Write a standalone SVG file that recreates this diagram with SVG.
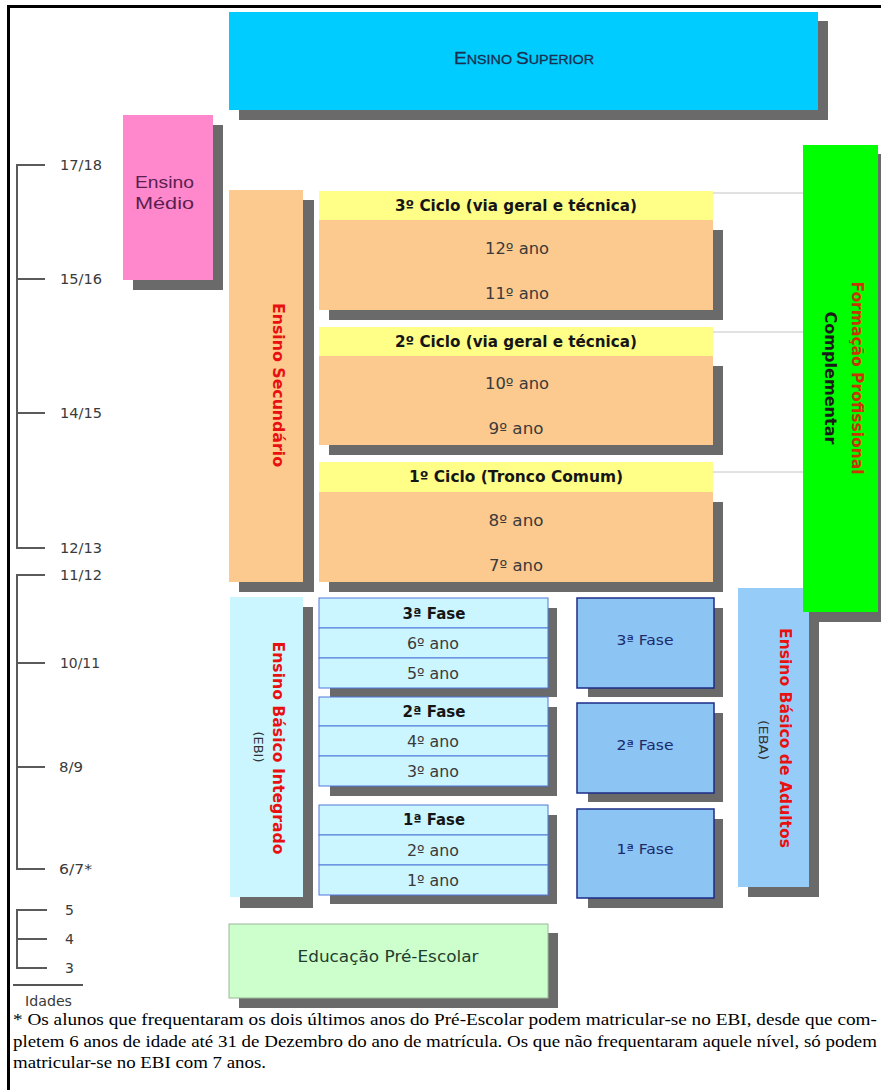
<svg xmlns="http://www.w3.org/2000/svg" width="881" height="1090" viewBox="0 0 881 1090">
<style>
.sh{fill:#6a6a6a}
.v{font-family:"DejaVu Sans","Liberation Sans",sans-serif;text-anchor:middle}
.age{font-family:"DejaVu Sans",sans-serif;font-size:14px;fill:#3a3a3a}
.axis{stroke:#5a5a5a;stroke-width:2;fill:none}
.red{fill:#e81010;font-weight:bold;font-size:15px}
.row{font-size:15px;fill:#3a3a3a}
.hdr{font-size:15px;font-weight:bold;fill:#151515}
.ebi{fill:#ccf6ff;stroke:#4f78d8;stroke-width:1}
.eba{fill:#8cc4f4;stroke:#1c2c86;stroke-width:1.5}
.org{fill:#fcc98f}
.yel{fill:#ffff88}
.conn{stroke:#c4c4c4;stroke-width:1}
.foot{font-family:"Liberation Serif","Times New Roman",serif;font-size:17px;fill:#000}
</style>
<rect x="0" y="0" width="881" height="1090" fill="#ffffff"/>
<path d="M8.5,1090 V6.5 H881" fill="none" stroke="#000" stroke-width="3"/>

<g id="connectors">
  <line class="conn" x1="713" y1="193" x2="803" y2="193"/>
  <line class="conn" x1="713" y1="332" x2="803" y2="332"/>
  <line class="conn" x1="713" y1="472" x2="803" y2="472"/>
</g>

<g id="ensino-superior">
  <rect class="sh" x="239" y="21" width="589" height="99"/>
  <rect x="229" y="12" width="589" height="98" fill="#00ccff"/>
  <text x="524" y="64" font-family="'Liberation Sans',sans-serif" fill="#1a3050" text-anchor="middle" stroke="#1a3050" stroke-width="0.3" textLength="140" lengthAdjust="spacingAndGlyphs"><tspan font-size="16">E</tspan><tspan font-size="12">NSINO </tspan><tspan font-size="16">S</tspan><tspan font-size="12">UPERIOR</tspan></text>
</g>

<g id="ensino-medio">
  <rect class="sh" x="133" y="125" width="90" height="165"/>
  <rect x="123" y="115" width="90" height="165" fill="#ff88cc"/>
  <text x="135" y="188" font-family="'Liberation Sans',sans-serif" font-size="17" fill="#5a1f4f" textLength="59" lengthAdjust="spacingAndGlyphs">Ensino</text>
  <text x="135" y="209" font-family="'Liberation Sans',sans-serif" font-size="17" fill="#5a1f4f" textLength="59" lengthAdjust="spacingAndGlyphs">Médio</text>
</g>

<g id="ensino-secundario">
  <rect class="sh" x="239" y="200" width="75" height="392"/>
  <rect class="org" x="229" y="190" width="74" height="392"/>
  <text class="v red" transform="translate(278 385) rotate(90)" y="5" textLength="164" lengthAdjust="spacingAndGlyphs">Ensino Secundário</text>
</g>

<g id="ciclo3">
  <rect class="sh" x="329" y="230" width="394" height="90"/>
  <rect class="yel" x="319" y="191" width="394" height="29"/>
  <rect class="org" x="319" y="220" width="394" height="90"/>
  <text class="v hdr" x="516" y="211" textLength="242" lengthAdjust="spacingAndGlyphs">3º Ciclo (via geral e técnica)</text>
  <text class="v row" x="517" y="254" textLength="64" lengthAdjust="spacingAndGlyphs">12º ano</text>
  <text class="v row" x="517" y="299" textLength="64" lengthAdjust="spacingAndGlyphs">11º ano</text>
</g>

<g id="ciclo2">
  <rect class="sh" x="329" y="366" width="394" height="89"/>
  <rect class="yel" x="319" y="327" width="394" height="29"/>
  <rect class="org" x="319" y="356" width="394" height="89"/>
  <text class="v hdr" x="516" y="347" textLength="242" lengthAdjust="spacingAndGlyphs">2º Ciclo (via geral e técnica)</text>
  <text class="v row" x="517" y="389" textLength="64" lengthAdjust="spacingAndGlyphs">10º ano</text>
  <text class="v row" x="516" y="434" textLength="55" lengthAdjust="spacingAndGlyphs">9º ano</text>
</g>

<g id="ciclo1">
  <rect class="sh" x="329" y="502" width="394" height="90"/>
  <rect class="yel" x="319" y="462" width="394" height="30"/>
  <rect class="org" x="319" y="492" width="394" height="90"/>
  <text class="v hdr" x="516" y="482" textLength="214" lengthAdjust="spacingAndGlyphs">1º Ciclo (Tronco Comum)</text>
  <text class="v row" x="516" y="526" textLength="55" lengthAdjust="spacingAndGlyphs">8º ano</text>
  <text class="v row" x="516" y="571" textLength="54" lengthAdjust="spacingAndGlyphs">7º ano</text>
</g>

<g id="ensino-basico-adultos">
  <rect class="sh" x="748" y="598" width="71" height="299"/>
  <rect x="738" y="588" width="71" height="299" fill="#96ccf8"/>
  <text class="v red" transform="translate(785 738) rotate(90)" y="5" textLength="220" lengthAdjust="spacingAndGlyphs">Ensino Básico de Adultos</text>
  <text class="v" transform="translate(763 740) rotate(90)" y="4" font-size="12" fill="#333" textLength="40" lengthAdjust="spacingAndGlyphs">(EBA)</text>
</g>

<g id="formacao-profissional">
  <rect class="sh" x="812" y="154" width="75" height="468"/>
  <rect x="803" y="145" width="75" height="467" fill="#00ff00"/>
  <text class="v" transform="translate(857 378) rotate(90)" y="5" font-size="15" font-weight="bold" fill="#cc3300" textLength="193" lengthAdjust="spacingAndGlyphs">Formação Profissional</text>
  <text class="v" transform="translate(830 378) rotate(90)" y="5" font-size="15" font-weight="bold" fill="#1a1a1a" textLength="133" lengthAdjust="spacingAndGlyphs">Complementar</text>
</g>

<g id="ensino-basico-integrado">
  <rect class="sh" x="240" y="607" width="73" height="301"/>
  <rect x="230" y="597" width="73" height="300" fill="#ccf6ff"/>
  <text class="v red" transform="translate(278 748) rotate(90)" y="5" textLength="213" lengthAdjust="spacingAndGlyphs">Ensino Básico Integrado</text>
  <text class="v" transform="translate(258 747) rotate(90)" y="4" font-size="12" fill="#333" textLength="31" lengthAdjust="spacingAndGlyphs">(EBI)</text>
</g>

<g id="ebi-fase3">
  <rect class="sh" x="330" y="608" width="227" height="89"/>
  <rect class="ebi" x="319" y="598" width="229" height="30"/>
  <rect class="ebi" x="319" y="628" width="229" height="30"/>
  <rect class="ebi" x="319" y="658" width="229" height="30"/>
  <text class="v hdr" x="434" y="619" textLength="63" lengthAdjust="spacingAndGlyphs">3ª Fase</text>
  <text class="v row" x="433" y="649" textLength="52" lengthAdjust="spacingAndGlyphs">6º ano</text>
  <text class="v row" x="433" y="679" textLength="52" lengthAdjust="spacingAndGlyphs">5º ano</text>
</g>

<g id="ebi-fase2">
  <rect class="sh" x="330" y="707" width="227" height="89"/>
  <rect class="ebi" x="319" y="697" width="229" height="29"/>
  <rect class="ebi" x="319" y="726" width="229" height="30"/>
  <rect class="ebi" x="319" y="756" width="229" height="30"/>
  <text class="v hdr" x="434" y="717" textLength="63" lengthAdjust="spacingAndGlyphs">2ª Fase</text>
  <text class="v row" x="433" y="747" textLength="52" lengthAdjust="spacingAndGlyphs">4º ano</text>
  <text class="v row" x="433" y="777" textLength="52" lengthAdjust="spacingAndGlyphs">3º ano</text>
</g>

<g id="ebi-fase1">
  <rect class="sh" x="330" y="815" width="227" height="89"/>
  <rect class="ebi" x="319" y="805" width="229" height="30"/>
  <rect class="ebi" x="319" y="835" width="229" height="30"/>
  <rect class="ebi" x="319" y="865" width="229" height="30"/>
  <text class="v hdr" x="434" y="825" textLength="62" lengthAdjust="spacingAndGlyphs">1ª Fase</text>
  <text class="v row" x="433" y="856" textLength="52" lengthAdjust="spacingAndGlyphs">2º ano</text>
  <text class="v row" x="433" y="886" textLength="52" lengthAdjust="spacingAndGlyphs">1º ano</text>
</g>

<g id="eba-fase3">
  <rect class="sh" x="588" y="608" width="135" height="89"/>
  <rect class="eba" x="577" y="598" width="137" height="90"/>
  <text class="v" x="645" y="645" font-size="14" fill="#1a2a6a" textLength="57" lengthAdjust="spacingAndGlyphs">3ª Fase</text>
</g>
<g id="eba-fase2">
  <rect class="sh" x="588" y="713" width="135" height="89"/>
  <rect class="eba" x="577" y="703" width="137" height="90"/>
  <text class="v" x="645" y="750" font-size="14" fill="#1a2a6a" textLength="57" lengthAdjust="spacingAndGlyphs">2ª Fase</text>
</g>
<g id="eba-fase1">
  <rect class="sh" x="588" y="819" width="135" height="89"/>
  <rect class="eba" x="577" y="809" width="137" height="89"/>
  <text class="v" x="645" y="854" font-size="14" fill="#1a2a6a" textLength="57" lengthAdjust="spacingAndGlyphs">1ª Fase</text>
</g>

<g id="educacao-pre-escolar">
  <rect class="sh" x="239" y="933" width="319" height="75"/>
  <rect x="229" y="924" width="319" height="74" fill="#ccffcc" stroke="#9ab89a" stroke-width="1"/>
  <text class="v" x="388" y="962" font-size="15" fill="#1f3d2f" textLength="181" lengthAdjust="spacingAndGlyphs">Educação Pré-Escolar</text>
</g>

<g id="idades">
  <path class="axis" d="M45,165 H17 V548 H45 M17,279 H45 M17,413 H45"/>
  <path class="axis" d="M45,575 H17 V869 H45 M17,663 H45 M17,767 H45"/>
  <path class="axis" d="M47,910 H17 V968 H47 M17,939 H47"/>
  <line x1="13" y1="985" x2="83" y2="985" stroke="#555" stroke-width="2"/>
  <text class="age" x="60" y="170" textLength="42" lengthAdjust="spacingAndGlyphs">17/18</text>
  <text class="age" x="60" y="284" textLength="42" lengthAdjust="spacingAndGlyphs">15/16</text>
  <text class="age" x="60" y="418" textLength="42" lengthAdjust="spacingAndGlyphs">14/15</text>
  <text class="age" x="60" y="553" textLength="42" lengthAdjust="spacingAndGlyphs">12/13</text>
  <text class="age" x="60" y="580" textLength="42" lengthAdjust="spacingAndGlyphs">11/12</text>
  <text class="age" x="60" y="668" textLength="40" lengthAdjust="spacingAndGlyphs">10/11</text>
  <text class="age" x="59" y="772" textLength="24" lengthAdjust="spacingAndGlyphs">8/9</text>
  <text class="age" x="59" y="874" textLength="33" lengthAdjust="spacingAndGlyphs">6/7*</text>
  <text class="age" x="65" y="915">5</text>
  <text class="age" x="65" y="944">4</text>
  <text class="age" x="65" y="973">3</text>
  <text class="age" x="25" y="1006" font-size="12" textLength="47" lengthAdjust="spacingAndGlyphs">Idades</text>
</g>

<g id="nota">
  <text class="foot" x="13" y="1025" textLength="864" lengthAdjust="spacingAndGlyphs">* Os alunos que frequentaram os dois últimos anos do Pré-Escolar podem matricular-se no EBI, desde que com-</text>
  <text class="foot" x="13" y="1047" textLength="864" lengthAdjust="spacingAndGlyphs">pletem 6 anos de idade até 31 de Dezembro do ano de matrícula. Os que não frequentaram aquele nível, só podem</text>
  <text class="foot" x="13" y="1068" textLength="253" lengthAdjust="spacingAndGlyphs">matricular-se no EBI com 7 anos.</text>
</g>
</svg>
